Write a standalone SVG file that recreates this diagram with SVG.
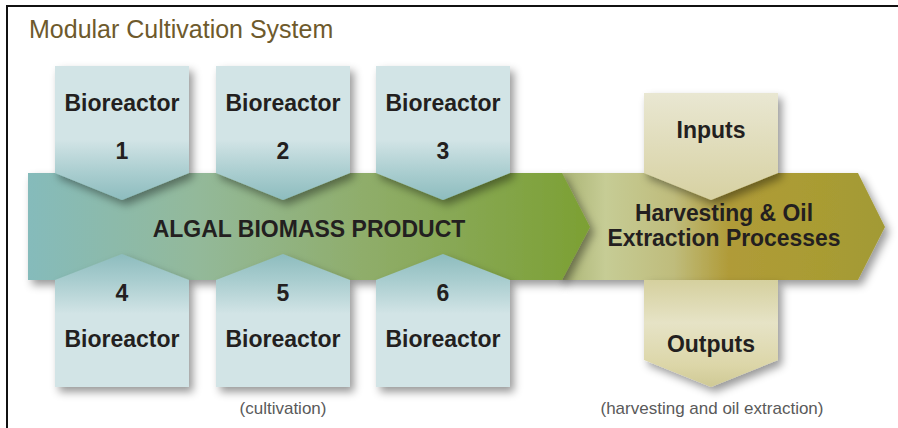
<svg xmlns="http://www.w3.org/2000/svg" width="898" height="428" viewBox="0 0 898 428">
  <defs>
    <filter id="sh" x="-20%" y="-20%" width="150%" height="150%">
      <feDropShadow dx="4" dy="5" stdDeviation="4.5" flood-color="#000" flood-opacity="0.4"/>
    </filter>
    <linearGradient id="gTop" x1="0" y1="0" x2="0" y2="1">
      <stop offset="0" stop-color="#d2e4e6"/>
      <stop offset="0.55" stop-color="#d2e4e6"/>
      <stop offset="0.8" stop-color="#a9cdcf"/>
      <stop offset="1" stop-color="#8dbcbe"/>
    </linearGradient>
    <linearGradient id="gBot" x1="0" y1="0" x2="0" y2="1">
      <stop offset="0" stop-color="#8dbcbe"/>
      <stop offset="0.2" stop-color="#a9cdcf"/>
      <stop offset="0.45" stop-color="#d2e4e6"/>
      <stop offset="1" stop-color="#d2e4e6"/>
    </linearGradient>
    <linearGradient id="gBand1" gradientUnits="userSpaceOnUse" x1="28" y1="0" x2="590" y2="0">
      <stop offset="0" stop-color="#85bbbb"/>
      <stop offset="0.3" stop-color="#93b99a"/>
      <stop offset="0.6" stop-color="#8fad6a"/>
      <stop offset="1" stop-color="#7ca033"/>
    </linearGradient>
    <linearGradient id="gBand2" gradientUnits="userSpaceOnUse" x1="560" y1="0" x2="885" y2="0">
      <stop offset="0" stop-color="#a9b373"/>
      <stop offset="0.14" stop-color="#c6cc95"/>
      <stop offset="0.35" stop-color="#bfbc7c"/>
      <stop offset="0.52" stop-color="#b09b38"/>
      <stop offset="0.8" stop-color="#a99c33"/>
      <stop offset="1" stop-color="#a29a36"/>
    </linearGradient>
    <linearGradient id="gIn" x1="0" y1="0" x2="0" y2="1">
      <stop offset="0" stop-color="#e9e7d2"/>
      <stop offset="1" stop-color="#d7d1a2"/>
    </linearGradient>
    <linearGradient id="gOut" x1="0" y1="0" x2="0" y2="1">
      <stop offset="0" stop-color="#d5d09e"/>
      <stop offset="0.4" stop-color="#e6e3c6"/>
      <stop offset="0.8" stop-color="#dcd6a8"/>
      <stop offset="1" stop-color="#cfc995"/>
    </linearGradient>
  </defs>
  <style>
    .lbl { font-family: "Liberation Sans", Arial, sans-serif; font-weight: bold; font-size: 23px; fill: #231f20; text-anchor: middle; }
    .cap { font-family: "Liberation Sans", Arial, sans-serif; font-size: 17px; fill: #5a5a5a; text-anchor: middle; }
    .title { font-family: "Liberation Sans", Arial, sans-serif; font-size: 25px; fill: #6e5a2c; }
    .frame { stroke: #111; stroke-width: 2; fill: none; }
  </style>
  <rect width="898" height="428" fill="#ffffff"/>
  <g id="frame">
    <polyline class="frame" points="7,428 7,6 898,6"/>
  </g>
  <text class="title" x="29" y="38">Modular Cultivation System</text>

  <g id="connectors"></g>

  <g id="harvesting">
    <polygon points="560,173 858,173 885,227 858,280 560,280" fill="url(#gBand2)" filter="url(#sh)"/>
  </g>
  <g id="algal-biomass">
    <polygon points="28,173 562,173 590,227 562,280 28,280" fill="url(#gBand1)" filter="url(#sh)"/>
  </g>

  <g id="bioreactor1">
    <polygon points="55,66 189,66 189,173 122,200 55,173" fill="url(#gTop)" filter="url(#sh)"/>
    <text class="lbl" x="122" y="111">Bioreactor</text>
    <text class="lbl" x="122" y="159">1</text>
  </g>
  <g id="bioreactor2">
    <polygon points="216,66 350,66 350,173 283,200 216,173" fill="url(#gTop)" filter="url(#sh)"/>
    <text class="lbl" x="283" y="111">Bioreactor</text>
    <text class="lbl" x="283" y="159">2</text>
  </g>
  <g id="bioreactor3">
    <polygon points="376,66 510,66 510,173 443,200 376,173" fill="url(#gTop)" filter="url(#sh)"/>
    <text class="lbl" x="443" y="111">Bioreactor</text>
    <text class="lbl" x="443" y="159">3</text>
  </g>
  <g id="bioreactor4">
    <polygon points="55,280 122,254 189,280 189,387 55,387" fill="url(#gBot)" filter="url(#sh)"/>
    <text class="lbl" x="122" y="301">4</text>
    <text class="lbl" x="122" y="347">Bioreactor</text>
  </g>
  <g id="bioreactor5">
    <polygon points="216,280 283,254 350,280 350,387 216,387" fill="url(#gBot)" filter="url(#sh)"/>
    <text class="lbl" x="283" y="301">5</text>
    <text class="lbl" x="283" y="347">Bioreactor</text>
  </g>
  <g id="bioreactor6">
    <polygon points="376,280 443,254 510,280 510,387 376,387" fill="url(#gBot)" filter="url(#sh)"/>
    <text class="lbl" x="443" y="301">6</text>
    <text class="lbl" x="443" y="347">Bioreactor</text>
  </g>

  <g id="inputs">
    <polygon points="644,93 778,93 778,173 711,200 644,173" fill="url(#gIn)" filter="url(#sh)"/>
    <text class="lbl" x="711" y="138">Inputs</text>
  </g>
  <g id="outputs">
    <polygon points="644,280 778,280 778,360 711,387 644,360" fill="url(#gOut)" filter="url(#sh)"/>
    <text class="lbl" x="711" y="352">Outputs</text>
  </g>

  <g id="band-labels">
    <text class="lbl" x="309" y="237" font-size="22">ALGAL BIOMASS PRODUCT</text>
    <text class="lbl" x="724" y="221" font-size="21" textLength="178" lengthAdjust="spacingAndGlyphs">Harvesting &amp; Oil</text>
    <text class="lbl" x="724" y="246" font-size="21" textLength="233" lengthAdjust="spacingAndGlyphs">Extraction Processes</text>
  </g>

  <g id="captions">
    <text class="cap" x="283" y="414">(cultivation)</text>
    <text class="cap" x="712" y="414">(harvesting and oil extraction)</text>
  </g>
</svg>
